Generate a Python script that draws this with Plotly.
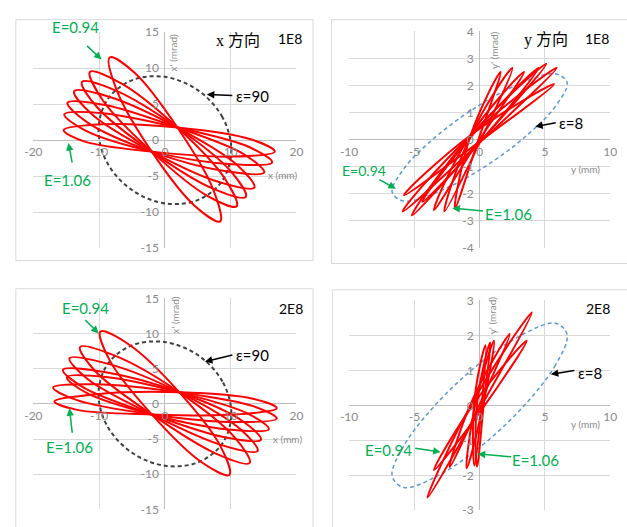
import plotly.graph_objects as go

W, H = 627, 527

# ---------------- data ----------------
# Panel 1 : x direction, 1E8 (x in mm, x' in mrad)
# each loop: left tip L, shoulders, crossing points P2 (upper) / P1 (lower), right tip R
X1_P2 = (1.9, 1.75)
X1_P1 = (-2.0, -1.6)
X1_L_X = [-8.4, -11.4, -12.6, -13.8, -14.8, -15.3, -15.4]
X1_L_XP = [11.5, 9.5, 8.1, 6.8, 5.2, 3.6, 1.4]
X1_R_X = [8.4, 10.9, 12.3, 13.6, 15.1, 16.3, 16.7]
X1_R_XP = [-11.3, -9.2, -7.9, -6.6, -4.5, -3.1, -1.6]
X1_S1_X = [-4.57, -6.70, -7.54, -8.39, -9.10, -9.45, -9.52]
X1_S1_XP = [9.34, 7.92, 6.93, 6.01, 4.88, 3.75, 2.20]
X1_S2_X = [7.30, 9.07, 10.06, 10.98, 12.04, 12.89, 13.17]
X1_S2_XP = [-6.78, -5.30, -4.38, -3.46, -1.98, -0.99, 0.08]
X1_S3_X = [4.55, 6.31, 7.30, 8.22, 9.28, 10.13, 10.41]
X1_S3_XP = [-9.15, -7.67, -6.75, -5.83, -4.34, -3.35, -2.29]
X1_S4_X = [-7.33, -9.45, -10.30, -11.15, -11.86, -12.21, -12.28]
X1_S4_XP = [6.97, 5.55, 4.57, 3.65, 2.51, 1.38, -0.17]

# Panel 3 : x direction, 2E8
X2_P2 = (2.2, 1.65)
X2_P1 = (-2.0, -1.5)
X2_L_X = [-9.8, -12.9, -14.5, -15.5, -14.9, -17.0, -16.8]
X2_L_XP = [10.3, 8.1, 6.5, 4.85, 3.8, 2.35, 0.35]
X2_R_X = [9.8, 12.9, 14.1, 14.6, 15.8, 17.0, 17.0]
X2_R_XP = [-10.1, -8.4, -6.7, -5.1, -3.6, -2.1, -0.6]
X2_S1_X = [-5.42, -7.61, -8.74, -9.44, -9.02, -10.51, -10.36]
X2_S1_XP = [8.42, 6.86, 5.73, 4.57, 3.82, 2.80, 1.38]
X2_S2_X = [8.44, 10.64, 11.48, 11.84, 12.69, 13.53, 13.53]
X2_S2_XP = [-6.01, -4.80, -3.60, -2.47, -1.41, -0.35, 0.71]
X2_S3_X = [5.47, 7.67, 8.51, 8.87, 9.72, 10.56, 10.56]
X2_S3_XP = [-8.23, -7.03, -5.83, -4.70, -3.64, -2.58, -1.52]
X2_S4_X = [-8.39, -10.58, -11.71, -12.41, -11.99, -13.48, -13.33]
X2_S4_XP = [6.19, 4.64, 3.50, 2.34, 1.60, 0.57, -0.85]

# emittance ellipse eps=90 (x, x')
ELL_X = [10.1, 8.75, 5.05, 0.0, -5.05, -8.75, -10.1, -8.75, -5.05, 0.0, 5.05, 8.75, 10.1]
ELL_XP = [-1.4, 3.19, 6.92, 8.8, 8.32, 5.61, 1.4, -3.19, -6.92, -8.8, -8.32, -5.61, -1.4]

# Panel 2 : y direction, 1E8
Y1_UP_Y = [1.6, 2.5, 3.4, 4.5, 5.1, 5.9, 5.7]
Y1_UP_YP = [2.5, 2.65, 2.5, 2.65, 2.8, 2.65, 2.05]
Y1_DN_Y = [-1.9, -2.7, -3.5, -4.4, -5.2, -5.9, -5.8]
Y1_DN_YP = [-2.55, -2.65, -2.6, -2.3, -2.8, -2.65, -2.05]
Y1_QA_Y = [-0.7, -0.6, -0.8, -0.5, -0.7, -0.9, -0.6]
Y1_QA_YP = [0.15, 0.25, 0.1, 0.2, 0.15, 0.05, 0.2]
Y1_QB_Y = [-0.2, 0.0, -0.3, 0.1, -0.1, -0.2, 0.2]
Y1_QB_YP = [-0.15, -0.1, -0.2, -0.05, -0.15, -0.2, 0.0]

# Panel 4 : y direction, 2E8
Y2_UP_Y = [4.0, 3.6, 2.3, 1.1, 0.45, 0.8]
Y2_UP_YP = [2.66, 1.85, 2.04, 1.85, 1.72, 1.8]
Y2_DN_Y = [-4.0, -3.5, -2.3, -1.0, -0.4, -0.2]
Y2_DN_YP = [-2.64, -1.85, -1.76, -1.8, -1.72, -1.75]
Y2_QA_Y = [-0.45, -0.35, -0.5, -0.3, -0.4, -0.2]
Y2_QA_YP = [0.15, 0.1, 0.2, 0.1, 0.15, 0.05]
Y2_QB_Y = [0.0, 0.1, -0.1, 0.2, 0.1, 0.3]
Y2_QB_YP = [-0.1, -0.15, -0.05, -0.1, -0.2, 0.0]

# emittance ellipse eps=8 (y, y')
ELLY_Y = [6.7, 5.8, 3.35, 0.0, -3.35, -5.8, -6.7, -5.8, -3.35, 0.0, 3.35, 5.8, 6.7]
ELLY1_YP = [2.1, 1.23, 0.05, -1.12, -1.96, -2.27, -1.94, -1.07, 0.11, 1.28, 2.12, 2.43, 2.1]
ELLY2_YP = [2.02, 1.15, -0.03, -1.2, -2.04, -2.35, -2.02, -1.15, 0.03, 1.2, 2.04, 2.35, 2.02]

# tick labels
XTICKS_X = [-20, -10, 0, 10, 20]
XTICKS_XP = [-15, -10, -5, 0, 5, 10, 15]
YTICKS_Y = [-10, -5, 0, 5, 10]
YTICKS_YP1 = [-4, -3, -2, -1, 0, 1, 2, 3, 4]
YTICKS_YP2 = [-3, -2, -1, 0, 1, 2, 3]


# ---------------- helpers ----------------
def fx(p):
    return p / W


def fy(p):
    return 1 - p / H


PANELS = [
    dict(xr=(-20, 20), yr=(-15, 15), dx=(25, 295), dy=(25, 247), xt=XTICKS_X, yt=XTICKS_XP),
    dict(xr=(-10, 10), yr=(-4, 4), dx=(349, 617), dy=(24, 247), xt=YTICKS_Y, yt=YTICKS_YP1),
    dict(xr=(-20, 20), yr=(-15, 15), dx=(25, 295), dy=(299, 516), xt=XTICKS_X, yt=XTICKS_XP),
    dict(xr=(-10, 10), yr=(-3, 3), dx=(349, 617), dy=(301, 517), xt=YTICKS_Y, yt=YTICKS_YP2),
]


def x_loops(p2, p1, lx, lxp, rx, rxp, s1x, s1y, s2x, s2y, s3x, s3y, s4x, s4y):
    xs, ys = [], []
    for i in range(len(lx)):
        xs += [p2[0], s2x[i], rx[i], s3x[i], p1[0], s4x[i], lx[i], s1x[i], p2[0], None]
        ys += [p2[1], s2y[i], rxp[i], s3y[i], p1[1], s4y[i], lxp[i], s1y[i], p2[1], None]
    return xs, ys


def y_loops(qax, qay, ux, uy, qbx, qby, dx, dy):
    xs, ys = [], []
    for i in range(len(ux)):
        xs += [qax[i], ux[i], qbx[i], dx[i], qax[i], None]
        ys += [qay[i], uy[i], qby[i], dy[i], qay[i], None]
    return xs, ys


fig = go.Figure()
RED = dict(color="#FF0000", width=2, shape="spline", smoothing=1.0)
REDY = dict(color="#FF0000", width=2, shape="spline", smoothing=1.2)
BLACKDASH = dict(color="#404040", width=2, dash="4px,3px", shape="spline")
BLUEDASH = dict(color="#5B9BD5", width=1.5, dash="4px,3px", shape="spline")

# panel 1
lx, ly = x_loops(X1_P2, X1_P1, X1_L_X, X1_L_XP, X1_R_X, X1_R_XP, X1_S1_X, X1_S1_XP,
                 X1_S2_X, X1_S2_XP, X1_S3_X, X1_S3_XP, X1_S4_X, X1_S4_XP)
fig.add_trace(go.Scatter(x=ELL_X, y=ELL_XP, mode="lines", xaxis="x", yaxis="y", line=BLACKDASH))
fig.add_trace(go.Scatter(x=lx, y=ly, mode="lines", xaxis="x", yaxis="y", line=RED))

# panel 2
lx, ly = y_loops(Y1_QA_Y, Y1_QA_YP, Y1_UP_Y, Y1_UP_YP, Y1_QB_Y, Y1_QB_YP, Y1_DN_Y, Y1_DN_YP)
fig.add_trace(go.Scatter(x=ELLY_Y, y=ELLY1_YP, mode="lines", xaxis="x2", yaxis="y2", line=BLUEDASH))
fig.add_trace(go.Scatter(x=lx, y=ly, mode="lines", xaxis="x2", yaxis="y2", line=REDY))

# panel 3
lx, ly = x_loops(X2_P2, X2_P1, X2_L_X, X2_L_XP, X2_R_X, X2_R_XP, X2_S1_X, X2_S1_XP,
                 X2_S2_X, X2_S2_XP, X2_S3_X, X2_S3_XP, X2_S4_X, X2_S4_XP)
fig.add_trace(go.Scatter(x=ELL_X, y=ELL_XP, mode="lines", xaxis="x3", yaxis="y3", line=BLACKDASH))
fig.add_trace(go.Scatter(x=lx, y=ly, mode="lines", xaxis="x3", yaxis="y3", line=RED))

# panel 4
lx, ly = y_loops(Y2_QA_Y, Y2_QA_YP, Y2_UP_Y, Y2_UP_YP, Y2_QB_Y, Y2_QB_YP, Y2_DN_Y, Y2_DN_YP)
fig.add_trace(go.Scatter(x=ELLY_Y, y=ELLY2_YP, mode="lines", xaxis="x4", yaxis="y4", line=BLUEDASH))
fig.add_trace(go.Scatter(x=lx, y=ly, mode="lines", xaxis="x4", yaxis="y4", line=REDY))

TICKFONT = dict(family="Lato, Liberation Sans, sans-serif", size=12, color="#8a8a8a")
layout = {}
for i, p in enumerate(PANELS):
    k = "" if i == 0 else str(i + 1)
    x0, x1 = p["xr"]
    y0, y1 = p["yr"]
    zero_py = p["dy"][0] + (y1 - 0) / (y1 - y0) * (p["dy"][1] - p["dy"][0])
    zero_px = p["dx"][0] + (0 - x0) / (x1 - x0) * (p["dx"][1] - p["dx"][0])
    layout["xaxis" + k] = dict(
        domain=[fx(p["dx"][0]), fx(p["dx"][1])], range=[x0, x1],
        tickmode="array", tickvals=p["xt"], ticktext=[str(v) for v in p["xt"]],
        anchor="free", position=fy(zero_py), showgrid=True, gridcolor="#d9d9d9", gridwidth=1,
        zeroline=True, zerolinecolor="#bfbfbf", zerolinewidth=1, showline=False,
        ticks="", tickfont=TICKFONT, ticklabelstandoff=3, fixedrange=True)
    layout["yaxis" + k] = dict(
        domain=[fy(p["dy"][1]), fy(p["dy"][0])], range=[y0, y1],
        tickmode="array", tickvals=p["yt"], ticktext=[str(v) for v in p["yt"]],
        anchor="free", position=fx(zero_px), showgrid=True, gridcolor="#d9d9d9", gridwidth=1,
        zeroline=True, zerolinecolor="#bfbfbf", zerolinewidth=1, showline=False,
        ticks="", tickfont=TICKFONT, ticklabelstandoff=6, fixedrange=True)

GREEN = "#00B050"
GRAY = "#8a8a8a"
TXT = "Lato, Liberation Sans, sans-serif"
TITLEF = "Liberation Serif, Noto Sans CJK SC, serif"
ann = []


def text(t, cx, cy, size=15, color="black", family=TXT, angle=0):
    ann.append(dict(text=t, x=fx(cx), y=fy(cy), xref="paper", yref="paper", showarrow=False,
                    xanchor="center", yanchor="middle", textangle=angle,
                    font=dict(size=size, color=color, family=family)))


def arrow(tx, ty, hx, hy, color):
    ann.append(dict(text="", x=fx(hx), y=fy(hy), xref="paper", yref="paper", showarrow=True,
                    ax=tx - hx, ay=ty - hy, arrowhead=2, arrowsize=1, arrowwidth=1.5,
                    arrowcolor=color))


# panel 1
text("x 方向", 235, 33, 16, family=TITLEF)
text("1E8", 288, 31, 14)
text("E=0.94", 68, 20, 15, GREEN)
arrow(79, 38, 95, 53, GREEN)
text("E=1.06", 60, 177, 15, GREEN)
arrow(65, 160, 61, 139, GREEN)
text("ε=90", 250, 91, 15)
arrow(230, 90, 203, 89, "black")
text("x (mm)", 281, 172, 10, GRAY)
text("x' (mrad)", 168, 46, 10, GRAY, angle=-90)
# panel 2
text("y 方向", 551, 33, 16, family=TITLEF)
text("1E8", 603, 31, 14)
text("E=0.94", 364, 167, 14, GREEN)
arrow(379, 176, 397, 186, GREEN)
text("E=1.06", 513, 212, 15, GREEN)
arrow(487, 209, 455, 206, GREEN)
text("ε=8", 577, 118, 15)
arrow(562, 118, 540, 122, "black")
text("y (mm)", 592, 166, 10, GRAY)
text("y' (mrad)", 497, 43, 10, GRAY, angle=-90)
# panel 3
text("2E8", 289, 309, 14)
text("E=0.94", 78, 309, 15, GREEN)
arrow(77, 320, 92, 335, GREEN)
text("E=1.06", 62, 452, 15, GREEN)
arrow(65, 438, 62, 412, GREEN)
text("ε=90", 250, 357, 15)
arrow(230, 357, 201, 364, "black")
text("x (mm)", 286, 444, 10, GRAY)
text("x' (mrad)", 170, 316, 10, GRAY, angle=-90)
# panel 4
text("2E8", 604, 309, 14)
text("E=0.94", 389, 455, 15, GREEN)
arrow(416, 453, 443, 457, GREEN)
text("E=1.06", 540, 465, 15, GREEN)
arrow(516, 462, 481, 459, GREEN)
text("ε=8", 596, 376, 15)
arrow(581, 373, 556, 377, "black")
text("y (mm)", 592, 428, 10, GRAY)
text("y' (mrad)", 496, 316, 10, GRAY, angle=-90)

FRAMES = [(7, 12, 312, 260), (331, 12, 640, 263), (7, 289, 312, 540), (332, 290, 640, 540)]
shapes = [dict(type="rect", xref="paper", yref="paper", x0=fx(a), y0=fy(d), x1=fx(c), y1=fy(b),
               line=dict(color="#d9d9d9", width=1), layer="below") for a, b, c, d in FRAMES]

fig.update_layout(width=W, height=H, margin=dict(l=0, r=0, t=0, b=0), showlegend=False,
                  paper_bgcolor="white", plot_bgcolor="white", annotations=ann, shapes=shapes,
                  **layout)
fig.write_html("out.html", config={"displayModeBar": False, "staticPlot": True},
               post_script="document.body.style.margin='0';document.body.style.padding='0';"
                           "document.body.style.overflow='hidden';")
